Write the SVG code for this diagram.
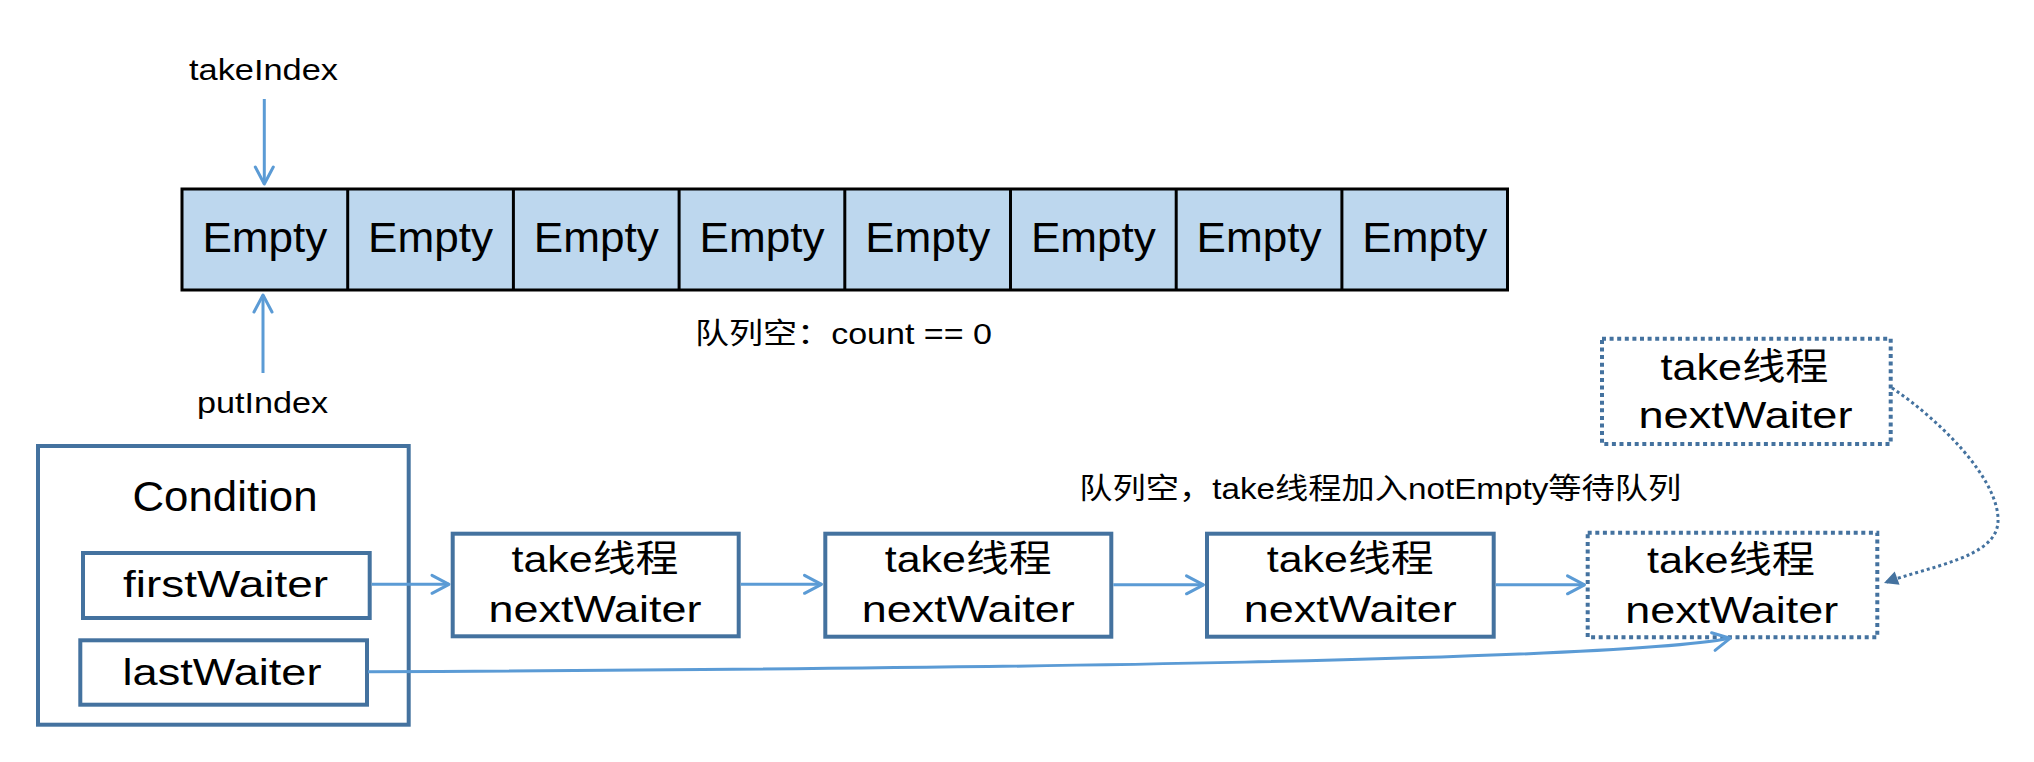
<svg xmlns="http://www.w3.org/2000/svg" width="2034" height="762" viewBox="0 0 2034 762">
<style>
text{font-family:"Liberation Sans","Noto Sans CJK SC",sans-serif;fill:#000}
.cell{fill:#BDD7EE;stroke:#000;stroke-width:3}
.div{stroke:#000;stroke-width:3}
.box{fill:#fff;stroke:#44729F;stroke-width:4}
.dbox{fill:#fff;stroke:#44729F;stroke-width:4;stroke-dasharray:4 3.6}
.conn{fill:none;stroke:#5B9BD5;stroke-width:3;marker-end:url(#open)}
.dot{fill:none;stroke:#44729F;stroke-width:3;stroke-dasharray:3 3;marker-end:url(#tri)}
.e{font-size:42px;text-anchor:middle}
.n{font-size:37px;text-anchor:middle}
.s{font-size:29px}
</style>
<defs>
<marker id="open" markerUnits="userSpaceOnUse" viewBox="-20 -12 24 24" refX="0" refY="0" markerWidth="24" markerHeight="24" orient="auto">
<path d="M-17 -9 L0 0 L-17 9" fill="none" stroke="#5B9BD5" stroke-width="3" stroke-linecap="round" stroke-linejoin="round"/>
</marker>
<marker id="tri" markerUnits="userSpaceOnUse" viewBox="-16 -10 18 20" refX="0" refY="0" markerWidth="18" markerHeight="20" orient="auto">
<path d="M0 0 L-14 -7 L-14 7 Z" fill="#44729F"/>
</marker>
</defs>

<g id="array">
<rect class="cell" x="182" y="189" width="1325.5" height="101"/>
<line class="div" x1="347.7" y1="189" x2="347.7" y2="290"/>
<line class="div" x1="513.4" y1="189" x2="513.4" y2="290"/>
<line class="div" x1="679.1" y1="189" x2="679.1" y2="290"/>
<line class="div" x1="844.8" y1="189" x2="844.8" y2="290"/>
<line class="div" x1="1010.5" y1="189" x2="1010.5" y2="290"/>
<line class="div" x1="1176.2" y1="189" x2="1176.2" y2="290"/>
<line class="div" x1="1341.9" y1="189" x2="1341.9" y2="290"/>
<text class="e" x="264.9" y="251.7" textLength="125" lengthAdjust="spacingAndGlyphs">Empty</text>
<text class="e" x="430.6" y="251.7" textLength="125" lengthAdjust="spacingAndGlyphs">Empty</text>
<text class="e" x="596.3" y="251.7" textLength="125" lengthAdjust="spacingAndGlyphs">Empty</text>
<text class="e" x="762" y="251.7" textLength="125" lengthAdjust="spacingAndGlyphs">Empty</text>
<text class="e" x="927.7" y="251.7" textLength="125" lengthAdjust="spacingAndGlyphs">Empty</text>
<text class="e" x="1093.4" y="251.7" textLength="125" lengthAdjust="spacingAndGlyphs">Empty</text>
<text class="e" x="1259.1" y="251.7" textLength="125" lengthAdjust="spacingAndGlyphs">Empty</text>
<text class="e" x="1424.8" y="251.7" textLength="125" lengthAdjust="spacingAndGlyphs">Empty</text>
</g>

<g id="takeIndex"><text class="s" x="189" y="80" textLength="149" lengthAdjust="spacingAndGlyphs">takeIndex</text></g>
<g id="putIndex"><text class="s" x="197" y="413" textLength="131" lengthAdjust="spacingAndGlyphs">putIndex</text></g>
<g id="label-empty"><text class="s" x="695" y="344.3" textLength="297" lengthAdjust="spacingAndGlyphs">队列空：count == 0</text></g>
<g id="label-join"><text class="s" x="1079.3" y="499.3" textLength="602" lengthAdjust="spacingAndGlyphs">队列空，take线程加入notEmpty等待队列</text></g>

<g id="condition">
<rect class="box" x="38" y="446" width="370.7" height="278.7"/>
<text class="e" x="225" y="511" textLength="185" lengthAdjust="spacingAndGlyphs">Condition</text>
</g>
<g id="firstWaiter">
<rect class="box" x="83" y="553" width="286.7" height="65"/>
<text class="n" x="225.5" y="596.7" textLength="205" lengthAdjust="spacingAndGlyphs">firstWaiter</text>
</g>
<g id="lastWaiter">
<rect class="box" x="80.3" y="640.3" width="286.7" height="64.4"/>
<text class="n" x="222" y="685" textLength="199" lengthAdjust="spacingAndGlyphs">lastWaiter</text>
</g>

<g id="take1">
<rect class="box" x="452.7" y="533.7" width="286" height="102.6"/>
<text class="n" x="595" y="571.7" textLength="167" lengthAdjust="spacingAndGlyphs">take线程</text>
<text class="n" x="595" y="621.7" textLength="213" lengthAdjust="spacingAndGlyphs">nextWaiter</text>
</g>
<g id="take2">
<rect class="box" x="825.3" y="533.7" width="286" height="103"/>
<text class="n" x="968.3" y="571.7" textLength="167" lengthAdjust="spacingAndGlyphs">take线程</text>
<text class="n" x="968.3" y="621.7" textLength="213" lengthAdjust="spacingAndGlyphs">nextWaiter</text>
</g>
<g id="take3">
<rect class="box" x="1207" y="533.7" width="286.7" height="103"/>
<text class="n" x="1350.3" y="571.7" textLength="167" lengthAdjust="spacingAndGlyphs">take线程</text>
<text class="n" x="1350.3" y="621.7" textLength="213" lengthAdjust="spacingAndGlyphs">nextWaiter</text>
</g>
<g id="take4">
<rect class="dbox" x="1587.7" y="532.7" width="289.6" height="104.6"/>
<text class="n" x="1731" y="573.3" textLength="168" lengthAdjust="spacingAndGlyphs">take线程</text>
<text class="n" x="1731.7" y="622.7" textLength="213" lengthAdjust="spacingAndGlyphs">nextWaiter</text>
</g>
<g id="take-new">
<rect class="dbox" x="1602" y="338.7" width="288.7" height="105.3"/>
<text class="n" x="1744.5" y="380" textLength="168" lengthAdjust="spacingAndGlyphs">take线程</text>
<text class="n" x="1745.5" y="428.3" textLength="214" lengthAdjust="spacingAndGlyphs">nextWaiter</text>
</g>

<g id="connectors">
<line class="conn" x1="264.3" y1="99" x2="264.3" y2="184"/>
<line class="conn" x1="263" y1="373" x2="263" y2="295"/>
<line class="conn" x1="371.7" y1="584.3" x2="449" y2="584.3"/>
<line class="conn" x1="740.7" y1="584.3" x2="821.5" y2="584.3"/>
<line class="conn" x1="1113.3" y1="584.8" x2="1203.5" y2="584.8"/>
<line class="conn" x1="1495.7" y1="584.8" x2="1584.5" y2="584.8"/>
<path class="conn" d="M368 671.7 C1000 669, 1620 660, 1730 638.3"/>
<path class="dot" d="M1892 388 C1940 420, 2000 480, 1998 522 C1996 558, 1930 566, 1884 583"/>
</g>
</svg>
